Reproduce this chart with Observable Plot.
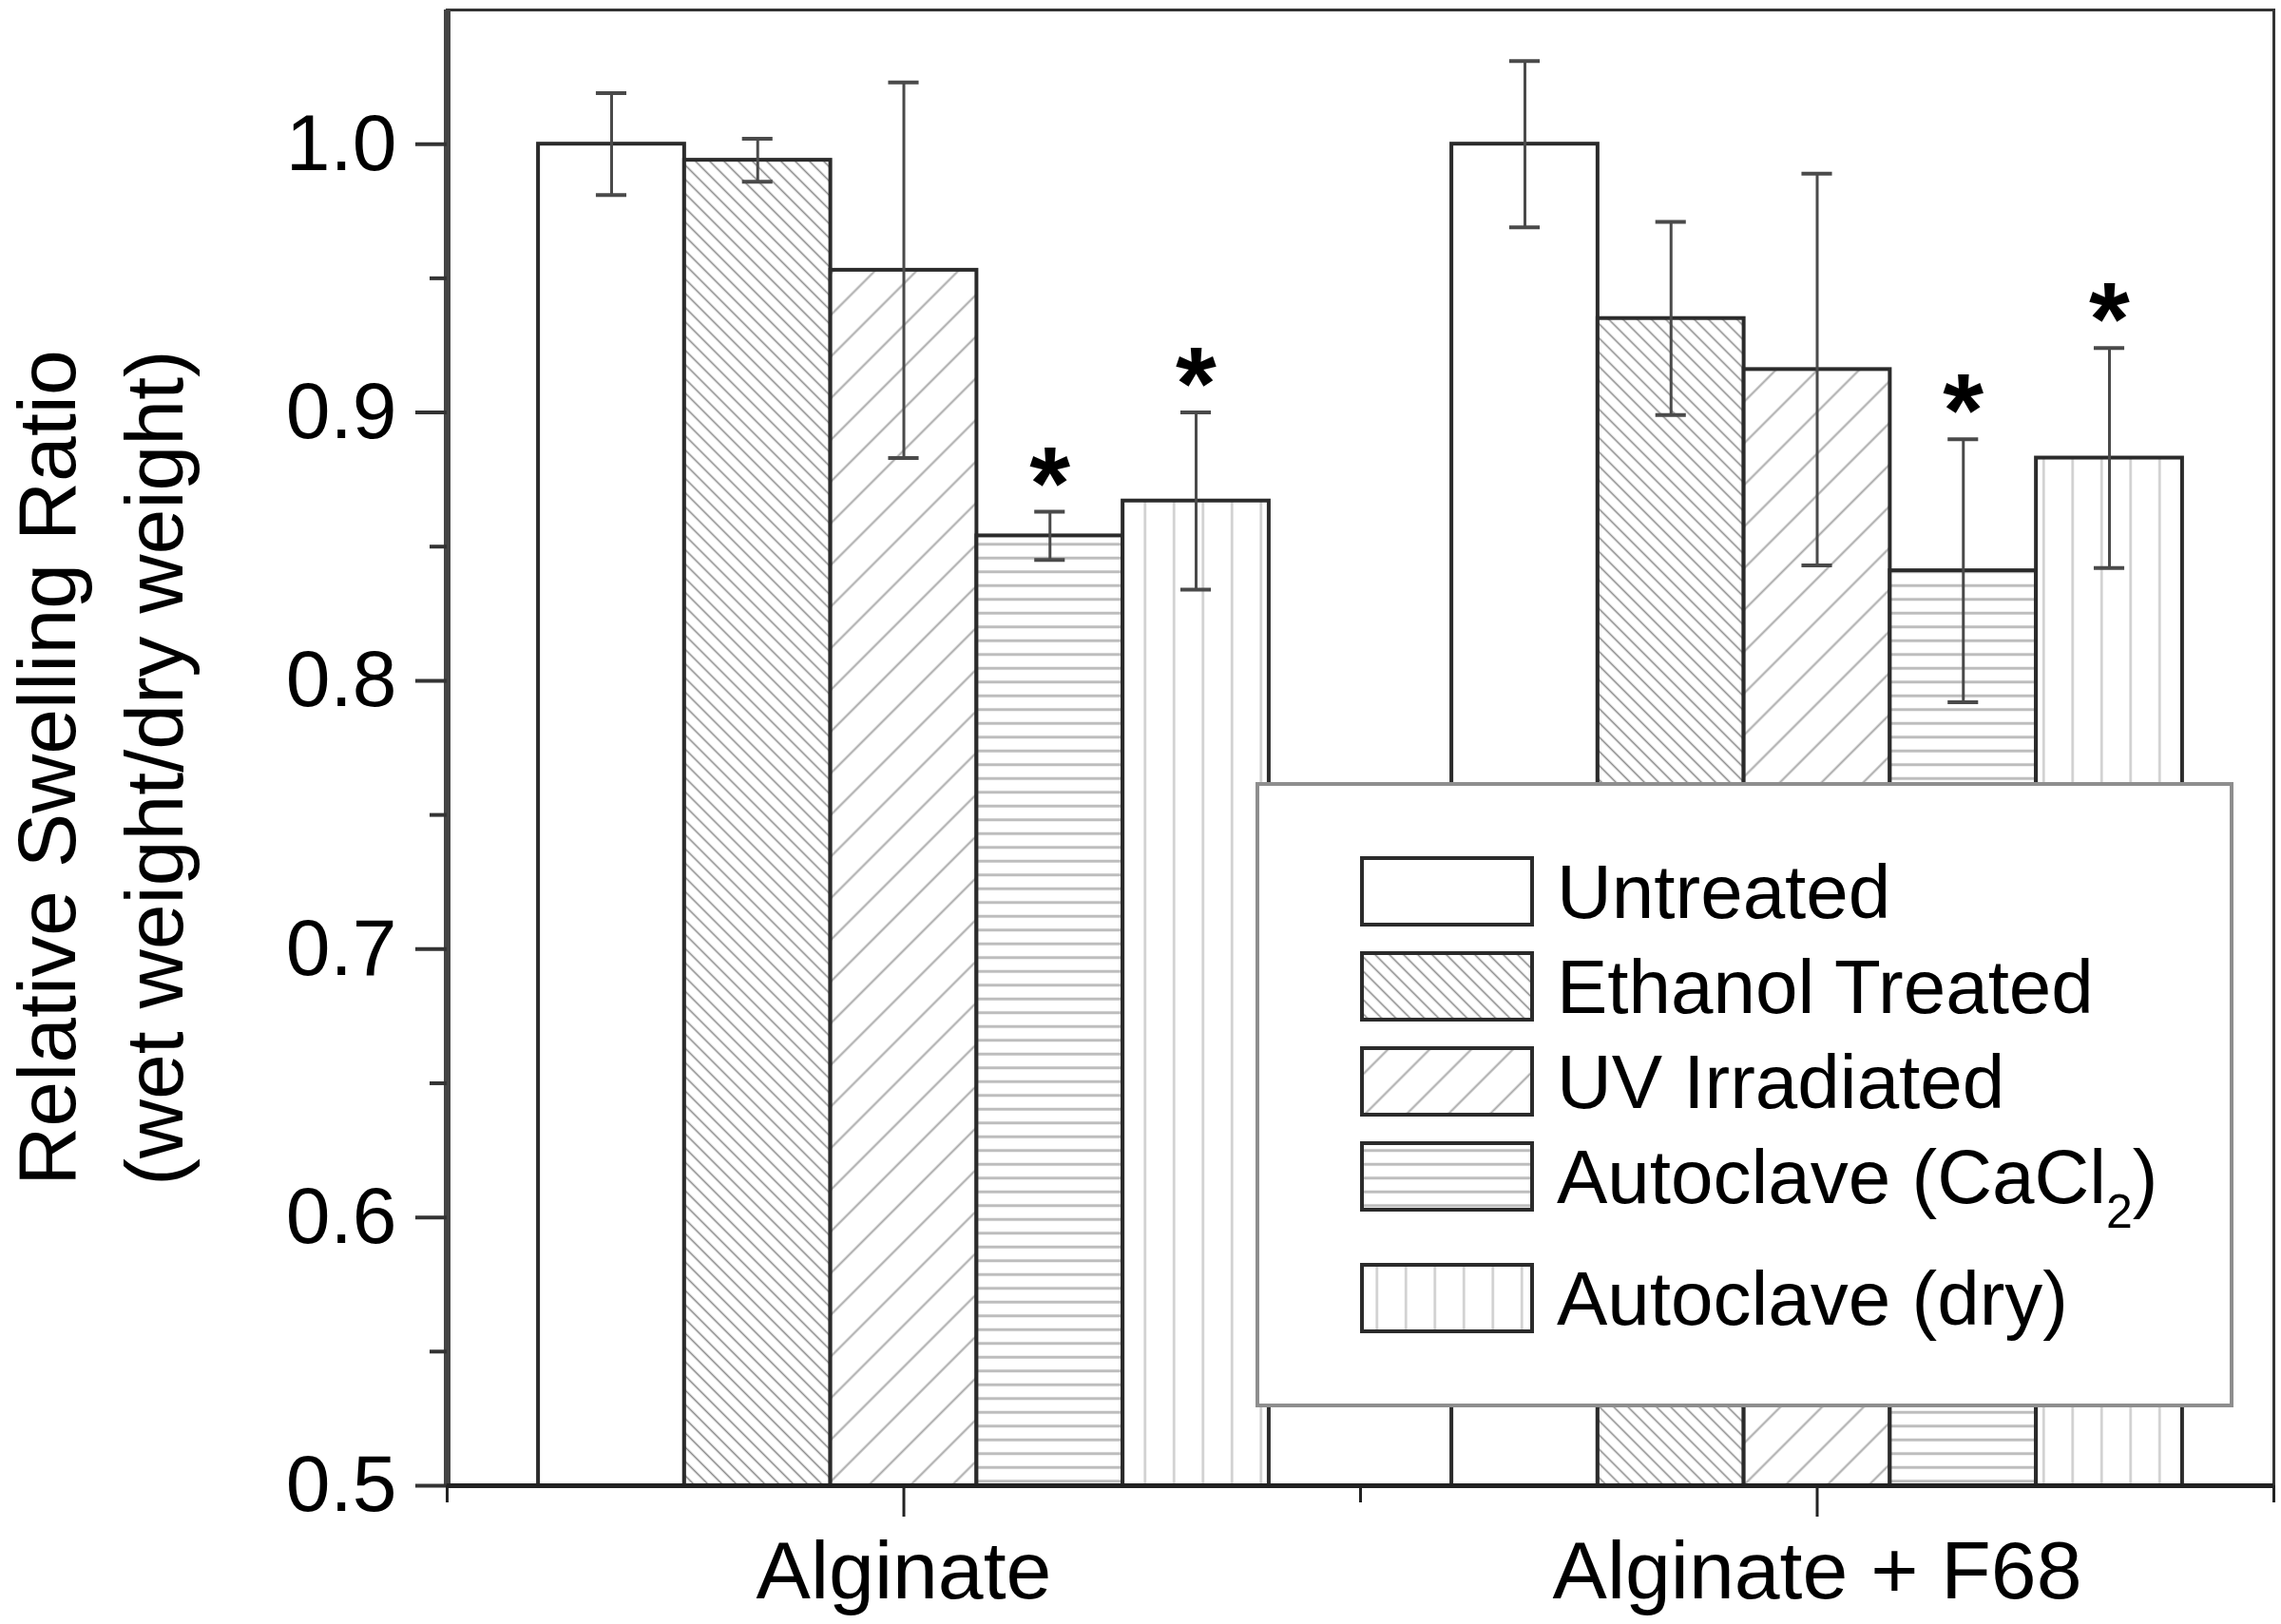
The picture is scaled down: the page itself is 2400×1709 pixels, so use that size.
<!DOCTYPE html>
<html>
<head>
<meta charset="utf-8">
<script src="https://cdn.jsdelivr.net/npm/d3@7"></script>
<script src="https://cdn.jsdelivr.net/npm/@observablehq/plot@0.6"></script>
<style>
  html, body { margin: 0; padding: 0; background: #fff; }
  #chart { width: 2400px; height: 1709px; }
</style>
</head>
<body>
<div id="chart"></div>
<script>
// ---------------- data ----------------
const groups = ["Alginate", "Alginate + F68"];
const treatments = ["Untreated", "Ethanol Treated", "UV Irradiated", "Autoclave (CaCl2)", "Autoclave (dry)"];
const alginateMean = [1.000, 0.994, 0.953, 0.854, 0.867];
const alginateErr  = [0.019, 0.008, 0.070, 0.009, 0.033];
const f68Mean      = [1.000, 0.935, 0.916, 0.841, 0.883];
const f68Err       = [0.031, 0.036, 0.073, 0.049, 0.041];
const alginateSig  = [false, false, false, true, true];
const f68Sig       = [false, false, false, true, true];
const yDomain = [0.5, 1.05];
const yTicks = [0.5, 0.6, 0.7, 0.8, 0.9, 1.0];
const yMinorTicks = [0.55, 0.65, 0.75, 0.85, 0.95];
const xTicks = [1, 2];
const xMinorTicks = [0.5, 1.5, 2.5];
const yLabelLines = ["Relative Swelling Ratio", "(wet weight/dry weight)"];

// ---------------- build table ----------------
const means = [alginateMean, f68Mean];
const errs = [alginateErr, f68Err];
const sigs = [alginateSig, f68Sig];
const rows = [];
groups.forEach((g, gi) => treatments.forEach((t, ti) => {
  rows.push({group: g, gi: gi + 1, treatment: t, ti, mean: means[gi][ti], err: errs[gi][ti], sig: sigs[gi][ti]});
}));
const barW = 0.16;
const capHalf = 0.0167;
const center = d => d.gi + (d.ti - (treatments.length - 1) / 2) * barW;
const patIds = ["pat-untreated", "pat-ethanol", "pat-uv", "pat-cacl2", "pat-dry"];

const ink = "#2b2b2b";
const errInk = "#4a4a4a";
const fontFamily = "'Liberation Sans', Arial, Helvetica, sans-serif";

const svg = Plot.plot({
  width: 2400,
  height: 1709,
  marginLeft: 470,
  marginRight: 8,
  marginTop: 10,
  marginBottom: 146,
  style: {fontFamily, fontSize: "84px", background: "white", color: "#000"},
  x: {domain: [0.5, 2.5], label: null},
  y: {domain: yDomain, label: null},
  color: {type: "identity"},
  marks: [
    Plot.rect(rows, {
      x1: d => center(d) - barW / 2,
      x2: d => center(d) + barW / 2,
      y1: yDomain[0],
      y2: "mean",
      fill: d => `url(#${patIds[d.ti]})`,
      stroke: ink,
      strokeWidth: 4
    }),
    Plot.ruleX(rows, {x: center, y1: d => d.mean - d.err, y2: d => d.mean + d.err, stroke: errInk, strokeWidth: 3}),
    Plot.ruleY(rows, {y: d => d.mean + d.err, x1: d => center(d) - capHalf, x2: d => center(d) + capHalf, stroke: errInk, strokeWidth: 4}),
    Plot.ruleY(rows, {y: d => d.mean - d.err, x1: d => center(d) - capHalf, x2: d => center(d) + capHalf, stroke: errInk, strokeWidth: 4}),
    Plot.text(rows.filter(d => d.sig), {x: center, y: d => d.mean + d.err, text: () => "*", fontSize: 110, fontWeight: "bold", dy: -28, fill: "#000"}),
    Plot.frame({stroke: "#333", strokeWidth: 3}),
    Plot.ruleX([xMinorTicks[0]], {stroke: "#444", strokeWidth: 7}),
    Plot.ruleY([yDomain[0]], {stroke: "#222", strokeWidth: 5}),
    Plot.axisY({ticks: yTicks, tickSize: 33, tickPadding: 20, tickFormat: d3.format(".1f"), stroke: "#333", strokeWidth: 4, fontSize: 84, label: null}),
    Plot.axisY({ticks: yMinorTicks, tickSize: 18, tickFormat: () => "", stroke: "#333", strokeWidth: 4, label: null}),
    Plot.axisX({ticks: xTicks, tickSize: 33, tickPadding: 24, tickFormat: d => groups[d - 1], stroke: "#222", strokeWidth: 3, fontSize: 86, label: null}),
    Plot.axisX({ticks: xMinorTicks, tickSize: 18, tickFormat: () => "", stroke: "#222", strokeWidth: 3, label: null}),
    Plot.text([yLabelLines.join("\n")], {text: d => d, frameAnchor: "left", rotate: -90, dx: -371, dy: 21, fontSize: 86, lineHeight: 1.31, textAnchor: "middle", fill: "#000"})
  ]
});

// ---------------- hatch patterns ----------------
const root = d3.select(svg);
const defs = root.insert("defs", ":first-child");
function linePattern(id, spacing, angle, color, width) {
  const p = defs.append("pattern").attr("id", id)
    .attr("patternUnits", "userSpaceOnUse")
    .attr("width", spacing).attr("height", spacing)
    .attr("patternTransform", `rotate(${angle})`);
  p.append("rect").attr("width", spacing).attr("height", spacing).attr("fill", "white");
  if (color) {
    p.append("line").attr("x1", spacing / 2).attr("x2", spacing / 2)
      .attr("y1", -1).attr("y2", spacing + 1)
      .attr("stroke", color).attr("stroke-width", width);
  }
}
linePattern("pat-untreated", 10, 0, null, 0);
linePattern("pat-ethanol", 10.6, -45, "#8a8a8a", 1.6);
linePattern("pat-uv", 31, 45, "#a8a8a8", 2);
linePattern("pat-cacl2", 14.5, 90, "#bdbdbd", 3);
linePattern("pat-dry", 30.5, 0, "#cdcdcd", 2.5);

// ---------------- legend (inside plot, drawn over bars) ----------------
const lg = root.append("g").attr("font-family", fontFamily).attr("text-anchor", "start");
lg.append("rect").attr("x", 1323).attr("y", 825).attr("width", 1025).attr("height", 654)
  .attr("fill", "white").attr("stroke", "#8e8e8e").attr("stroke-width", 4);
const rowTops = treatments.map((t, i) => 903 + i * 100 + (i === 4 ? 28 : 0));
treatments.forEach((t, i) => {
  const yTop = rowTops[i];
  lg.append("rect").attr("x", 1433).attr("y", yTop).attr("width", 179).attr("height", 70)
    .attr("fill", `url(#${patIds[i]})`).attr("stroke", ink).attr("stroke-width", 4);
  const txt = lg.append("text").attr("x", 1638).attr("y", yTop + 63)
    .attr("font-size", 80).attr("fill", "#000").attr("text-anchor", "start");
  const m = t.match(/^(.*CaCl)2(\))$/);
  if (m) {
    txt.append("tspan").text(m[1]);
    txt.append("tspan").attr("font-size", 50).attr("dy", 26).text("2");
    txt.append("tspan").attr("dy", -26).text(m[2]);
  } else {
    txt.text(t);
  }
});

document.getElementById("chart").appendChild(svg);
</script>
</body>
</html>
